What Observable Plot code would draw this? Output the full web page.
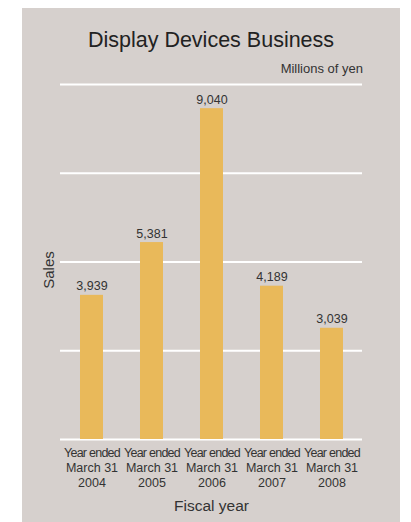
<!DOCTYPE html>
<html>
<head>
<meta charset="utf-8">
<script src="https://cdn.jsdelivr.net/npm/d3@7"></script>
<script src="https://cdn.jsdelivr.net/npm/@observablehq/plot@0.6"></script>
<style>
  html, body { margin: 0; padding: 0; background: #ffffff; width: 411px; height: 522px; overflow: hidden; }
  body { position: relative; font-family: "Liberation Sans", Arial, Helvetica, sans-serif; }
  #panel { position: absolute; left: 22px; top: 8px; width: 378px; height: 514px; background: #d6d0cd; }
  #title { position: absolute; left: 22px; width: 378px; top: 30px; text-align: center; font-size: 21.5px; line-height: 1; color: #222; }
  #subtitle { position: absolute; right: 48px; top: 62px; font-size: 13px; line-height: 1; color: #333; }
  #ylabel { position: absolute; left: 47.5px; top: 270px; font-size: 15px; line-height: 1; color: #333; transform: translate(-50%, -50%) rotate(-90deg); white-space: nowrap; }
  #chart { position: absolute; left: 0; top: 76px; }
</style>
</head>
<body>
<div id="panel"></div>
<div id="title">Display Devices Business</div>
<div id="subtitle">Millions of yen</div>
<div id="ylabel">Sales</div>
<div id="chart"></div>
<script>
const years = ["2004", "2005", "2006", "2007", "2008"];
const sales = [3939, 5381, 9040, 4189, 3039];
const gridTicks = [0, 2425, 4850, 7275, 9700];
const xLabel = "Fiscal year";

const data = years.map((y, i) => ({year: y, sales: sales[i]}));
const fmt = d3.format(",");
const barColor = "#e9b95a";

const chart = Plot.plot({
  width: 411,
  height: 446,
  marginTop: 8,
  marginBottom: 83,
  marginLeft: 60,
  marginRight: 49,
  style: {background: "transparent", fontFamily: "'Liberation Sans', Arial, Helvetica, sans-serif", color: "#333"},
  x: {domain: years, paddingInner: 0.62, paddingOuter: 0.31},
  y: {domain: [0, 9700], axis: null},
  marks: [
    Plot.ruleY(gridTicks, {stroke: "#ffffff", strokeWidth: 2}),
    Plot.barY(data, {x: "year", y: "sales", fill: barColor}),
    Plot.text(data, {x: "year", y: "sales", text: d => fmt(d.sales), lineAnchor: "bottom", dy: -5, fontSize: 12.5, fill: "#333"}),
    Plot.axisX({
      tickSize: 0,
      tickPadding: 7,
      fontSize: 12.5,
      lineHeight: 1.2,
      tickFormat: d => `Year ended\nMarch 31\n${d}`,
      label: xLabel,
      labelAnchor: "center",
      labelOffset: 71,
      color: "#333"
    })
  ]
});
chart.querySelectorAll("[aria-label='x-axis label']").forEach(el => el.setAttribute("font-size", "15.5"));
chart.querySelectorAll("[aria-label='x-axis tick label'] text").forEach(el => {
  const first = el.querySelector("tspan");
  if (first) first.setAttribute("letter-spacing", "-0.75");
});
document.getElementById("chart").appendChild(chart);
</script>
</body>
</html>
